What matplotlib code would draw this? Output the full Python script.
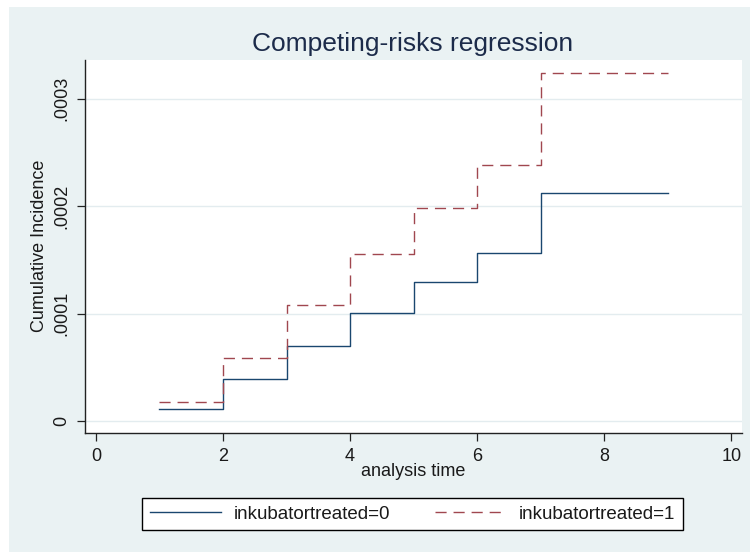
import matplotlib
matplotlib.use("Agg")
import matplotlib.pyplot as plt
from matplotlib.patches import Rectangle

plt.rcParams['font.family'] = ['Liberation Sans', 'DejaVu Sans']

# step data
times = [1, 2, 3, 4, 5, 6, 7, 9]
cif0 = [0.0000112, 0.0000388, 0.0000696, 0.0001009, 0.0001298, 0.0001562, 0.0002121, 0.0002121]
cif1 = [0.0000180, 0.0000590, 0.0001075, 0.0001553, 0.0001984, 0.0002385, 0.0003239, 0.0003239]

xticks = [0, 2, 4, 6, 8, 10]
yticks = [0, 0.0001, 0.0002, 0.0003]
ytick_labels = ['0', '.0001', '.0002', '.0003']
labels = ['inkubatortreated=0', 'inkubatortreated=1']

W, H = 750, 552
fig = plt.figure(figsize=(7.5, 5.52), dpi=100, facecolor='white')

# light bluish graph region
bg = Rectangle((9 / W, 0), 1, 1 - 7 / H, transform=fig.transFigure,
               facecolor='#EAF2F3', edgecolor='none', zorder=-10)
fig.patches.append(bg)

left, right, top, bottom = 84.5, 742, 60, 433
ax = fig.add_axes([left / W, 1 - bottom / H, (right - left) / W, (bottom - top) / H])
ax.set_facecolor('white')

navy = '#1A476F'
maroon = '#A0474F'
ax.step(times, cif0, where='post', color=navy, lw=1.0, label=labels[0])
ax.step(times, cif1, where='post', color=maroon, lw=1.0,
        linestyle=(0, (8, 5)), label=labels[1])

ax.set_xlim(-0.18, 10.17)
ax.set_ylim(-0.0000112, 0.000336)
ax.set_xticks(xticks)
ax.set_yticks(yticks)
ax.set_yticklabels(ytick_labels)

for s in ['top', 'right']:
    ax.spines[s].set_visible(False)
for s in ['left', 'bottom']:
    ax.spines[s].set_color('#222222')
    ax.spines[s].set_linewidth(1.0)

ax.tick_params(axis='both', direction='out', length=5.5, width=0.9,
               color='#222222', labelsize=13, labelcolor='#1a1a1a', pad=5)
ax.tick_params(axis='y', labelrotation=90)
plt.setp(ax.get_yticklabels(), va='center')

ax.yaxis.grid(True, color='#E3ECEF', lw=1.0)
ax.set_axisbelow(True)

fig.text(413 / W, 1 - 51 / H, 'Competing-risks regression', fontsize=19,
         color='#1c2b4a', ha='center', va='baseline')
fig.text(413 / W, 1 - 471 / H, 'analysis time', fontsize=13,
         color='#1a1a1a', ha='center', va='center')
fig.text(40 / W, 1 - 246 / H, 'Cumulative Incidence', fontsize=13,
         color='#1a1a1a', ha='center', va='center', rotation=90)

leg = fig.legend(loc='center', bbox_to_anchor=(412.5 / W, 1 - 514 / H), ncol=2,
                 fontsize=13.5, frameon=True, fancybox=False, framealpha=1,
                 edgecolor='black', handlelength=3.8, handletextpad=0.65,
                 columnspacing=2.4, borderpad=0.42)
leg.get_frame().set_linewidth(1.0)
for t in leg.get_texts():
    t.set_color('#1a1a1a')

fig.savefig('out.png', dpi=100, facecolor=fig.get_facecolor())
